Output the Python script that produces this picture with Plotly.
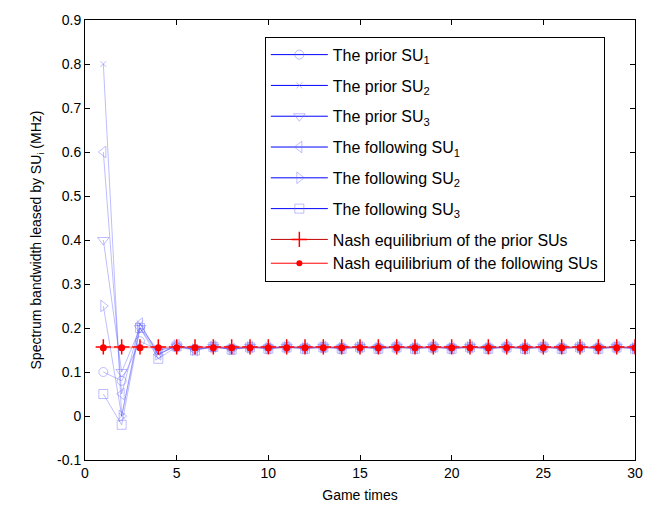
import plotly.graph_objects as go

t = list(range(1, 31))

prior_su1 = [0.10, 0.08, 0.17, 0.15, 0.156, 0.152, 0.156, 0.153, 0.156, 0.155, 0.156, 0.155, 0.156, 0.155, 0.156,
             0.155, 0.156, 0.155, 0.156, 0.155, 0.156, 0.155, 0.156, 0.155, 0.156, 0.155, 0.156, 0.155, 0.156, 0.155]
prior_su2 = [0.80, 0.00, 0.21, 0.14, 0.160, 0.154, 0.158, 0.155, 0.157, 0.156, 0.157, 0.156, 0.157, 0.156, 0.157,
             0.156, 0.157, 0.156, 0.157, 0.156, 0.157, 0.156, 0.157, 0.156, 0.157, 0.156, 0.157, 0.156, 0.157, 0.156]
prior_su3 = [0.40, 0.10, 0.20, 0.15, 0.158, 0.153, 0.157, 0.154, 0.157, 0.155, 0.157, 0.155, 0.157, 0.155, 0.157,
             0.155, 0.157, 0.155, 0.157, 0.155, 0.157, 0.155, 0.157, 0.155, 0.157, 0.155, 0.157, 0.155, 0.157, 0.155]
foll_su1 = [0.60, 0.05, 0.21, 0.14, 0.161, 0.150, 0.158, 0.152, 0.157, 0.154, 0.157, 0.154, 0.157, 0.154, 0.157,
            0.154, 0.157, 0.154, 0.157, 0.154, 0.157, 0.154, 0.157, 0.154, 0.157, 0.154, 0.157, 0.154, 0.157, 0.154]
foll_su2 = [0.25, 0.00, 0.20, 0.14, 0.160, 0.151, 0.157, 0.152, 0.156, 0.154, 0.156, 0.154, 0.156, 0.154, 0.156,
            0.154, 0.156, 0.154, 0.156, 0.154, 0.156, 0.154, 0.156, 0.154, 0.156, 0.154, 0.156, 0.154, 0.156, 0.154]
foll_su3 = [0.05, -0.02, 0.20, 0.13, 0.158, 0.149, 0.157, 0.151, 0.156, 0.153, 0.156, 0.153, 0.156, 0.153, 0.156,
            0.153, 0.156, 0.153, 0.156, 0.153, 0.156, 0.153, 0.156, 0.153, 0.156, 0.153, 0.156, 0.153, 0.156, 0.153]
nash_prior = [0.157] * 30
nash_foll = [0.155] * 30

series = [
    ("The prior SU<sub>1</sub>", prior_su1, "circle-open", 9),
    ("The prior SU<sub>2</sub>", prior_su2, "x-thin-open", 6),
    ("The prior SU<sub>3</sub>", prior_su3, "triangle-down-open", 10),
    ("The following SU<sub>1</sub>", foll_su1, "triangle-left-open", 10),
    ("The following SU<sub>2</sub>", foll_su2, "triangle-right-open", 10),
    ("The following SU<sub>3</sub>", foll_su3, "square-open", 9),
]

light_line = "rgba(70,70,255,0.35)"
light_mark = "rgba(110,110,255,0.45)"

fig = go.Figure()
for name, vals, sym, sz in series:
    fig.add_trace(go.Scatter(x=t, y=vals, mode="lines+markers", showlegend=False,
                             line=dict(color=light_line, width=1),
                             marker=dict(symbol=sym, size=sz, color=light_mark,
                                         line=dict(color=light_mark, width=1))))

fig.add_trace(go.Scatter(x=t, y=nash_prior, mode="lines+markers", showlegend=False,
                         line=dict(color="rgba(255,60,60,0.45)", width=1),
                         marker=dict(symbol="cross-thin-open", size=11, color="red",
                                     line=dict(color="red", width=1.5))))
fig.add_trace(go.Scatter(x=t, y=nash_foll, mode="lines+markers", showlegend=False,
                         line=dict(color="rgba(255,60,60,0.45)", width=1),
                         marker=dict(symbol="circle", size=7, color="red")))

# legend entries
for i, (name, vals, sym, sz) in enumerate(series):
    fig.add_trace(go.Scatter(x=[None], y=[None], mode="lines+markers", name=name,
                             legendgroup=f"g{i}",
                             line=dict(color="#0000ff", width=1),
                             marker=dict(symbol=sym, size=sz, color=light_mark,
                                         line=dict(color=light_mark, width=1))))
fig.add_trace(go.Scatter(x=[None], y=[None], mode="lines+markers",
                         name="Nash equilibrium of the prior SUs", legendgroup="g6",
                         line=dict(color="#c00000", width=1),
                         marker=dict(symbol="cross-thin-open", size=11, color="red",
                                     line=dict(color="red", width=1.5))))
fig.add_trace(go.Scatter(x=[None], y=[None], mode="lines+markers",
                         name="Nash equilibrium of the following SUs", legendgroup="g6",
                         line=dict(color="red", width=1),
                         marker=dict(symbol="circle", size=6, color="red")))

axis_common = dict(showline=True, linecolor="black", linewidth=1, mirror="ticks",
                   ticks="inside", ticklen=5, tickcolor="black", showgrid=False,
                   zeroline=False, tickfont=dict(size=14, color="black"))

fig.update_layout(
    width=657, height=513,
    margin=dict(l=85, r=22, t=17, b=50),
    paper_bgcolor="white", plot_bgcolor="white",
    font=dict(family="Liberation Sans, Arial, sans-serif", size=14, color="black"),
    xaxis=dict(range=[0, 30], tickvals=[0, 5, 10, 15, 20, 25, 30],
               title=dict(text="Game times", font=dict(size=14), standoff=10), **axis_common),
    yaxis=dict(range=[-0.1, 0.9], tickvals=[-0.1, 0, 0.1, 0.2, 0.3, 0.4, 0.5, 0.6, 0.7, 0.8, 0.9],
               ticktext=["-0.1", "0", "0.1", "0.2", "0.3", "0.4", "0.5", "0.6", "0.7", "0.8", "0.9"],
               title=dict(text="Spectrum bandwidth leased by SU<sub>i</sub> (MHz)", font=dict(size=14), standoff=12),
               **axis_common),
    legend=dict(x=0.327, y=0.962, xanchor="left", yanchor="top",
                bordercolor="black", borderwidth=1, bgcolor="white",
                font=dict(size=16, color="black"), itemwidth=57,
                tracegroupgap=7),
)

fig.write_html("out.html")
